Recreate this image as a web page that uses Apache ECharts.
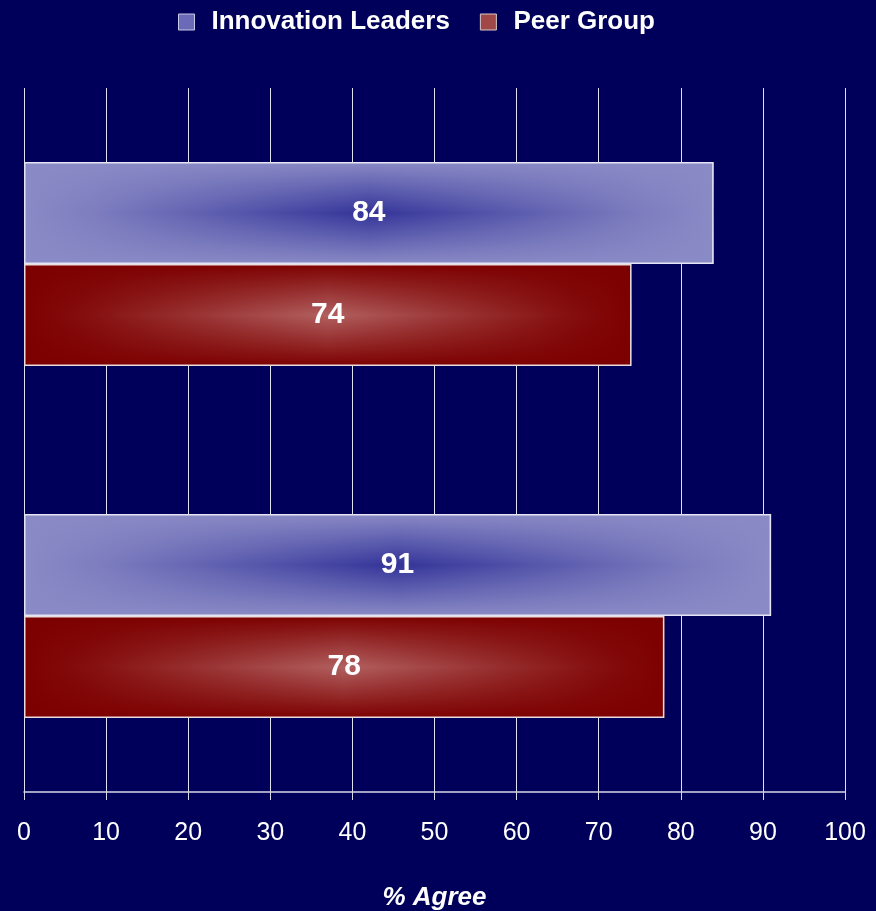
<!DOCTYPE html>
<html lang="en">
<head>
    <meta charset="UTF-8">
    <title>% Agree</title>
    <script src="https://cdn.jsdelivr.net/npm/echarts@6/dist/echarts.min.js"></script>
    <style>
        html, body { margin: 0; padding: 0; background: #00005a; }
    </style>
</head>
<body>
<div id="main" style="width: 876px;height:911px;"></div>
<script>
    // data
    var categories = ['Statement 1', 'Statement 2'];
    var seriesNames = ['Innovation Leaders', 'Peer Group'];
    var leaders = [84, 91];
    var peers = [74, 78];
    var xTicks = [0, 100, 10]; // min, max, interval

    var font = 'Liberation Sans, Arial, sans-serif';
    var blueLight = '#8a8ac6', blueDark = '#333399';
    var redLight = '#b26060', redDark = '#7d0000';

    // vertical gradient for the base bar
    function vGrad(edge, mid) {
        return new echarts.graphic.LinearGradient(0, 0, 0, 1, [
            {offset: 0, color: edge},
            {offset: 0.5, color: mid},
            {offset: 1, color: edge}
        ]);
    }
    // horizontal overlay, opaque at the ends, clear in the middle
    function hGrad(rgb) {
        return new echarts.graphic.LinearGradient(0, 0, 1, 0, [
            {offset: 0, color: 'rgba(' + rgb + ',1)'},
            {offset: 0.1, color: 'rgba(' + rgb + ',0.85)'},
            {offset: 0.5, color: 'rgba(' + rgb + ',0)'},
            {offset: 0.9, color: 'rgba(' + rgb + ',0.85)'},
            {offset: 1, color: 'rgba(' + rgb + ',1)'}
        ]);
    }

    var gridPos = {left: 24, right: 31, top: 88, bottom: 119, outerBoundsMode: 'none', containLabel: false};
    var barLabel = {show: true, position: 'inside', color: '#fff', fontSize: 30, fontWeight: 'bold', fontFamily: font};

    var myChart = echarts.init(document.getElementById('main'));
    var option = {
        backgroundColor: '#00005a',
        animation: false,
        legend: {
            top: 4,
            left: 173,
            itemWidth: 16,
            itemHeight: 16,
            itemGap: 30,
            textStyle: {color: '#fff', fontSize: 26, fontWeight: 'bold', fontFamily: font, padding: [0, 0, 0, 12]},
            data: [
                {name: seriesNames[0], icon: 'rect', itemStyle: {color: '#6a6ab8', borderColor: '#c8c8e8', borderWidth: 1}},
                {name: seriesNames[1], icon: 'rect', itemStyle: {color: '#a04848', borderColor: '#d8c8c8', borderWidth: 1}}
            ]
        },
        grid: [
            Object.assign({}, gridPos),
            Object.assign({}, gridPos)
        ],
        xAxis: [{
            gridIndex: 0,
            type: 'value',
            min: xTicks[0], max: xTicks[1], interval: xTicks[2],
            name: '% Agree',
            nameLocation: 'middle',
            nameGap: 93,
            nameTextStyle: {color: '#fff', fontSize: 26, fontWeight: 'bold', fontStyle: 'italic', fontFamily: font},
            axisLine: {show: true, lineStyle: {color: '#d8d8e8', width: 1.5}},
            axisTick: {show: true, length: 8, lineStyle: {color: '#d8d8e8'}},
            axisLabel: {color: '#fff', fontSize: 25, margin: 29, fontFamily: font},
            splitLine: {show: true, lineStyle: {color: '#e0e0f0', width: 1}}
        }, {
            gridIndex: 1,
            type: 'value',
            min: xTicks[0], max: xTicks[1],
            show: false
        }],
        yAxis: [{
            gridIndex: 0,
            type: 'category',
            inverse: true,
            data: categories,
            axisLine: {show: false},
            axisTick: {show: false},
            axisLabel: {show: false}
        }, {
            gridIndex: 1,
            type: 'category',
            inverse: true,
            data: categories,
            show: false
        }],
        series: [
            {
                name: seriesNames[0], type: 'bar', xAxisIndex: 0, yAxisIndex: 0,
                barGap: 0, barCategoryGap: '42%',
                itemStyle: {color: vGrad(blueLight, blueDark)},
                data: leaders
            },
            {
                name: seriesNames[1], type: 'bar', xAxisIndex: 0, yAxisIndex: 0,
                barGap: 0, barCategoryGap: '42%',
                itemStyle: {color: vGrad(redDark, redLight)},
                data: peers
            },
            // overlays give the "from centre" look, and carry border + labels
            {
                name: 'overlay-1', type: 'bar', xAxisIndex: 1, yAxisIndex: 1, silent: true, z: 3,
                barGap: 0, barCategoryGap: '42%',
                itemStyle: {color: hGrad('138,138,198'), borderColor: '#e4e4f4', borderWidth: 1.5},
                label: barLabel,
                data: leaders
            },
            {
                name: 'overlay-2', type: 'bar', xAxisIndex: 1, yAxisIndex: 1, silent: true, z: 3,
                barGap: 0, barCategoryGap: '42%',
                itemStyle: {color: hGrad('125,0,0'), borderColor: '#e8dcdc', borderWidth: 1.5},
                label: barLabel,
                data: peers
            }
        ]
    };
    myChart.setOption(option);
</script>
</body>
</html>
